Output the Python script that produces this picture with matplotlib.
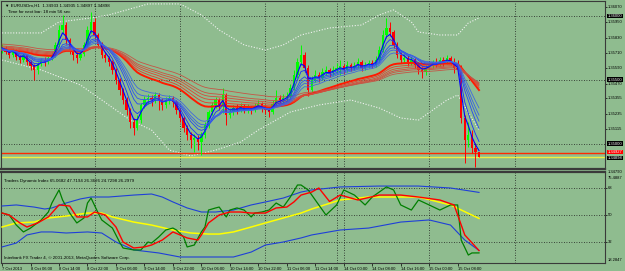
import matplotlib.pyplot as plt

# EURUSDm H1 bars (7 Oct 22:00 .. 15 Oct 14:00)
opens = [1.35733, 1.35749, 1.35718, 1.35694, 1.35733, 1.35679, 1.35655, 1.35694, 1.35640, 1.35608,
         1.35577, 1.35624, 1.35655, 1.35640, 1.35671, 1.35694, 1.35773, 1.35890, 1.35929, 1.35812,
         1.35733, 1.35694, 1.35671, 1.35702, 1.35773, 1.35890, 1.35953, 1.35851, 1.35773, 1.35694,
         1.35671, 1.35640, 1.35577, 1.35499, 1.35420, 1.35342, 1.35264, 1.35170, 1.35123, 1.35185,
         1.35303, 1.35342, 1.35358, 1.35342, 1.35381, 1.35342, 1.35303, 1.35342, 1.35358, 1.35326,
         1.35264, 1.35201, 1.35123, 1.35068, 1.35029, 1.35044, 1.35013, 1.35068, 1.35146, 1.35248,
         1.35303, 1.35342, 1.35303, 1.35381, 1.35225, 1.35248, 1.35279, 1.35264, 1.35295, 1.35264,
         1.35279, 1.35264, 1.35295, 1.35311, 1.35279, 1.35264, 1.35248, 1.35311, 1.35358, 1.35342,
         1.35358, 1.35373, 1.35436, 1.35538, 1.35640, 1.35694, 1.35593, 1.35420, 1.35499, 1.35538,
         1.35514, 1.35561, 1.35577, 1.35553, 1.35577, 1.35593, 1.35608, 1.35577, 1.35616, 1.35593,
         1.35608, 1.35640, 1.35593, 1.35616, 1.35632, 1.35616, 1.35655, 1.35733, 1.35851, 1.35906,
         1.35874, 1.35773, 1.35694, 1.35655, 1.35671, 1.35640, 1.35655, 1.35616, 1.35577, 1.35561,
         1.35593, 1.35616, 1.35640, 1.35624, 1.35655, 1.35640, 1.35671, 1.35640, 1.35593, 1.35577,
         1.35201, 1.35029, 1.35068, 1.34966, 1.34933]
highs = [1.35780, 1.35765, 1.35733, 1.35749, 1.35741, 1.35694, 1.35710, 1.35702, 1.35655, 1.35624,
         1.35640, 1.35671, 1.35679, 1.35687, 1.35718, 1.35796, 1.35929, 1.36008, 1.35953, 1.35827,
         1.35757, 1.35718, 1.35733, 1.35796, 1.35921, 1.36031, 1.35984, 1.35867, 1.35796, 1.35718,
         1.35687, 1.35655, 1.35593, 1.35514, 1.35436, 1.35365, 1.35279, 1.35201, 1.35225, 1.35319,
         1.35373, 1.35389, 1.35381, 1.35405, 1.35397, 1.35358, 1.35365, 1.35381, 1.35373, 1.35342,
         1.35279, 1.35217, 1.35146, 1.35091, 1.35076, 1.35068, 1.35091, 1.35170, 1.35264, 1.35326,
         1.35365, 1.35358, 1.35436, 1.35397, 1.35279, 1.35303, 1.35311, 1.35319, 1.35311, 1.35311,
         1.35295, 1.35319, 1.35342, 1.35326, 1.35303, 1.35287, 1.35342, 1.35420, 1.35381, 1.35389,
         1.35405, 1.35467, 1.35577, 1.35671, 1.35773, 1.35718, 1.35616, 1.35530, 1.35577, 1.35561,
         1.35593, 1.35608, 1.35593, 1.35608, 1.35632, 1.35655, 1.35624, 1.35647, 1.35632, 1.35640,
         1.35671, 1.35655, 1.35640, 1.35655, 1.35655, 1.35687, 1.35765, 1.35890, 1.35984, 1.35953,
         1.35890, 1.35796, 1.35718, 1.35702, 1.35694, 1.35679, 1.35671, 1.35640, 1.35608, 1.35616,
         1.35640, 1.35655, 1.35671, 1.35679, 1.35679, 1.35694, 1.35687, 1.35671, 1.35655, 1.35616,
         1.35225, 1.35170, 1.35107, 1.35005, 1.34935]
lows = [1.35710, 1.35702, 1.35671, 1.35679, 1.35655, 1.35632, 1.35640, 1.35616, 1.35577, 1.35499,
        1.35546, 1.35608, 1.35608, 1.35624, 1.35655, 1.35679, 1.35757, 1.35867, 1.35780, 1.35702,
        1.35655, 1.35632, 1.35655, 1.35687, 1.35757, 1.35867, 1.35827, 1.35749, 1.35671, 1.35640,
        1.35608, 1.35546, 1.35467, 1.35381, 1.35311, 1.35225, 1.35123, 1.35068, 1.35107, 1.35162,
        1.35279, 1.35311, 1.35295, 1.35319, 1.35264, 1.35264, 1.35279, 1.35311, 1.35287, 1.35232,
        1.35170, 1.35091, 1.35029, 1.34966, 1.34935, 1.34950, 1.34911, 1.35044, 1.35123, 1.35225,
        1.35279, 1.35264, 1.35240, 1.35146, 1.35201, 1.35225, 1.35232, 1.35248, 1.35240, 1.35240,
        1.35232, 1.35248, 1.35279, 1.35248, 1.35232, 1.35209, 1.35232, 1.35295, 1.35311, 1.35319,
        1.35334, 1.35358, 1.35420, 1.35514, 1.35616, 1.35561, 1.35373, 1.35405, 1.35483, 1.35483,
        1.35499, 1.35538, 1.35522, 1.35538, 1.35553, 1.35538, 1.35546, 1.35561, 1.35569, 1.35577,
        1.35593, 1.35569, 1.35577, 1.35593, 1.35593, 1.35600, 1.35640, 1.35718, 1.35827, 1.35843,
        1.35749, 1.35671, 1.35632, 1.35632, 1.35608, 1.35616, 1.35593, 1.35546, 1.35514, 1.35538,
        1.35577, 1.35593, 1.35600, 1.35608, 1.35608, 1.35624, 1.35616, 1.35553, 1.35561, 1.35162,
        1.34849, 1.34974, 1.34927, 1.34817, 1.34897]
closes = [1.35749, 1.35718, 1.35694, 1.35733, 1.35679, 1.35655, 1.35694, 1.35640, 1.35608, 1.35577,
          1.35624, 1.35655, 1.35640, 1.35671, 1.35694, 1.35773, 1.35890, 1.35929, 1.35812, 1.35733,
          1.35694, 1.35671, 1.35702, 1.35773, 1.35890, 1.35953, 1.35851, 1.35773, 1.35694, 1.35671,
          1.35640, 1.35577, 1.35499, 1.35420, 1.35342, 1.35264, 1.35170, 1.35123, 1.35185, 1.35303,
          1.35342, 1.35358, 1.35342, 1.35381, 1.35342, 1.35303, 1.35342, 1.35358, 1.35326, 1.35264,
          1.35201, 1.35123, 1.35068, 1.35029, 1.35044, 1.35013, 1.35068, 1.35146, 1.35248, 1.35303,
          1.35342, 1.35303, 1.35381, 1.35225, 1.35248, 1.35279, 1.35264, 1.35295, 1.35264, 1.35279,
          1.35264, 1.35295, 1.35311, 1.35279, 1.35264, 1.35248, 1.35311, 1.35358, 1.35342, 1.35358,
          1.35373, 1.35436, 1.35538, 1.35640, 1.35694, 1.35593, 1.35420, 1.35499, 1.35538, 1.35514,
          1.35561, 1.35577, 1.35553, 1.35577, 1.35593, 1.35608, 1.35577, 1.35616, 1.35593, 1.35608,
          1.35640, 1.35593, 1.35616, 1.35632, 1.35616, 1.35655, 1.35733, 1.35851, 1.35906, 1.35874,
          1.35773, 1.35694, 1.35655, 1.35671, 1.35640, 1.35655, 1.35616, 1.35577, 1.35561, 1.35593,
          1.35616, 1.35640, 1.35624, 1.35655, 1.35640, 1.35671, 1.35640, 1.35593, 1.35577, 1.35201,
          1.35029, 1.35068, 1.34966, 1.34933, 1.34898]

# GMMA: periods and the values the averages had at the first visible bar
short_periods = [3, 5, 8, 10, 12, 15]
short_start = [1.35749, 1.35749, 1.35741, 1.35741, 1.35733, 1.35733]
long_periods = [30, 35, 40, 45, 50, 60]
long_start = [1.35733, 1.35741, 1.35749, 1.35757, 1.35765, 1.35780]

# dotted white bands
band_up_bars = [0, 11, 16, 25, 30, 41, 50, 56, 61, 68, 74, 79, 84, 92, 101, 106, 110, 115, 117, 123, 128, 131, 134]
band_up = [1.35867, 1.35867, 1.35953, 1.35984, 1.36008, 1.36094, 1.36094, 1.36008, 1.35890, 1.35773, 1.35733, 1.35773,
           1.35851, 1.35906, 1.35929, 1.36008, 1.36047, 1.35953, 1.35874, 1.35851, 1.35851, 1.35945, 1.35984]
band_lo_bars = [0, 11, 22, 30, 36, 42, 47, 53, 60, 67, 72, 81, 89, 98, 106, 112, 117, 125, 128, 134]
band_lo = [1.35655, 1.35577, 1.35460, 1.35303, 1.35185, 1.35107, 1.34950, 1.34904, 1.34950, 1.35013,
           1.35107, 1.35248, 1.35303, 1.35342, 1.35279, 1.35201, 1.35185, 1.35342, 1.35381, 1.35107]

level_lines = [1.36000, 1.35500, 1.35000]
ask_price = 1.34927
bid_price = 1.34898

# Traders Dynamic Index
green_bars = [0, 2, 4, 6, 8, 11, 13, 14, 16, 17, 19, 21, 23, 24, 25, 27, 28, 31, 33, 34, 37, 39, 41, 42, 44,
              46, 48, 49, 51, 52, 54, 56, 57, 58, 60, 61, 63, 64, 66, 68, 70, 71, 73, 75, 77, 79, 81, 83, 84,
              86, 88, 91, 94, 96, 99, 102, 104, 108, 110, 112, 115, 117, 120, 123, 126, 128, 129, 131, 132, 134]
green_vals = [51.3, 50.0, 43.3, 38.7, 41.3, 46.7, 52.0, 58.0, 66.7, 60.0, 51.3, 44.7, 48.0, 58.0, 61.3, 51.3,
              46.7, 41.3, 32.0, 28.0, 26.7, 26.7, 32.0, 31.3, 35.3, 40.0, 41.3, 40.0, 35.3, 28.7, 30.0, 38.7,
              42.0, 53.3, 54.7, 55.3, 48.7, 53.3, 54.7, 53.3, 48.7, 51.3, 52.0, 53.3, 58.0, 55.3, 62.0, 70.0,
              70.0, 66.7, 60.0, 50.0, 56.7, 66.7, 63.3, 56.7, 62.0, 68.7, 66.7, 56.7, 53.3, 60.0, 56.7, 53.3,
              56.7, 56.7, 33.3, 23.3, 24.7, 24.73]
red_bars = [0, 2, 5, 7, 10, 13, 16, 19, 21, 24, 26, 29, 32, 34, 37, 40, 42, 45, 48, 52, 55, 56, 58, 61, 64,
            67, 70, 74, 77, 80, 82, 84, 87, 89, 92, 95, 100, 106, 112, 117, 123, 127, 130, 134]
red_vals = [51.3, 50.0, 44.7, 42.0, 44.7, 48.7, 56.7, 56.0, 48.7, 48.7, 52.0, 50.0, 42.0, 32.0, 28.0, 28.7,
            30.0, 33.3, 38.7, 34.7, 33.3, 36.7, 44.7, 50.0, 52.0, 52.0, 51.3, 51.3, 54.7, 55.3, 58.7, 63.3,
            65.3, 68.0, 59.0, 63.3, 60.0, 63.3, 63.3, 62.0, 60.0, 56.7, 36.7, 26.30]
yellow_bars = [0, 4, 9, 13, 18, 24, 28, 31, 37, 42, 48, 53, 58, 61, 65, 70, 74, 79, 84, 87, 95, 103, 117, 126, 134]
yellow_vals = [42.0, 44.7, 45.3, 48.0, 49.3, 51.3, 51.3, 48.7, 45.3, 43.3, 40.0, 38.0, 37.3, 37.3, 38.7, 42.0,
               44.7, 48.0, 51.3, 54.0, 60.0, 62.0, 62.0, 56.7, 47.72]
vb_up_bars = [0, 4, 9, 12, 14, 18, 22, 25, 30, 37, 42, 45, 48, 52, 56, 60, 65, 70, 74, 79, 84, 87, 95, 106, 117, 126, 134]
vb_up = [56.0, 56.7, 55.3, 54.0, 54.7, 58.0, 60.7, 62.0, 62.0, 63.3, 64.0, 62.0, 58.7, 54.7, 52.0, 52.0, 53.3,
         56.7, 58.7, 61.3, 65.3, 66.7, 68.7, 69.3, 69.3, 68.0, 65.07]
vb_lo_bars = [0, 4, 7, 11, 14, 18, 24, 28, 32, 37, 44, 50, 56, 61, 65, 70, 74, 79, 84, 87, 95, 103, 112, 120, 126, 130, 134]
vb_lo = [28.7, 31.3, 36.7, 38.7, 38.7, 38.0, 38.7, 38.0, 32.0, 26.7, 24.7, 22.0, 22.0, 22.0, 22.0, 25.3, 30.0,
         32.0, 34.7, 36.7, 40.0, 41.3, 45.3, 46.7, 43.3, 33.3, 26.36]
tdi_max = 75.4887
tdi_min = 18.2847

time_labels = ['7 Oct 2013', '8 Oct 06:00', '8 Oct 14:00', '8 Oct 22:00', '9 Oct 06:00', '9 Oct 14:00',
               '9 Oct 22:00', '10 Oct 06:00', '10 Oct 14:00', '10 Oct 22:00', '11 Oct 06:00', '11 Oct 14:00',
               '14 Oct 00:00', '14 Oct 08:00', '14 Oct 16:00', '15 Oct 00:00', '15 Oct 08:00']
time_ticks = list(range(0, 129, 8))
day_lines = [26, 50, 74, 94, 96, 120, 144]
price_ticks = [1.36070, 1.35950, 1.35830, 1.35710, 1.35590, 1.35470, 1.35355, 1.35235, 1.35115]
bottom_price = 1.34790
tdi_levels = [68, 50, 32]

plt.rcParams['font.family'] = ['Liberation Sans', 'DejaVu Sans']
FS = 3.0
BG = '#8fbc8f'
GRID = dict(color='#1e1e1e', linestyle=(0, (1, 2)), linewidth=0.6, zorder=1)


def ema(values, period, start):
    k = 2.0 / (period + 1)
    out = [start]
    for v in values[1:]:
        out.append(out[-1] + k * (v - out[-1]))
    return out


def side_label(a, value, text, dy=0, bg=None):
    kw = dict(xy=(1, value), xycoords=('axes fraction', 'data'), xytext=(1.8, dy),
              textcoords='offset points', va='center', ha='left', fontsize=FS, annotation_clip=False)
    if bg:
        kw.update(color='white', bbox=dict(facecolor=bg, edgecolor='none', pad=0.3))
    a.annotate(text, **kw)


fig = plt.figure(figsize=(6.25, 2.71), dpi=100)
fig.patch.set_facecolor(BG)
ax = fig.add_axes([1 / 625, 1 - 169 / 271, 604 / 625, 168 / 271])
ax2 = fig.add_axes([1 / 625, 1 - 263 / 271, 604 / 625, 91 / 271])

xmin, xmax = -0.3, 169.4
bars = list(range(len(closes)))

# ---- main chart
ax.set_facecolor(BG)
ax.set_xlim(xmin, xmax)
ax.set_ylim(1.34802, 1.36117)
for b in day_lines:
    ax.axvline(b, **GRID)
for lv in level_lines:
    ax.axhline(lv, **GRID)

ax.plot(band_up_bars, band_up, color='#f2f2f2', linestyle=(0, (1, 1.5)), linewidth=0.8, zorder=2)
ax.plot(band_lo_bars, band_lo, color='#f2f2f2', linestyle=(0, (1, 1.5)), linewidth=0.8, zorder=2)

ax.axhline(ask_price, color='#ff2a00', linewidth=1.0, zorder=2)
ax.axhline(bid_price, color='#f0f040', linewidth=1.0, zorder=2)

# candles
for i in bars:
    up = closes[i] >= opens[i]
    col = '#00ff00' if up else '#ff0000'
    ax.vlines(i, lows[i], highs[i], color=col, linewidth=0.7, zorder=3)
    lo = min(opens[i], closes[i])
    h = max(abs(closes[i] - opens[i]), 0.00003)
    ax.bar(i, h, bottom=lo, width=0.65, color=col, linewidth=0, zorder=3)

long_cols = ['#ff1a00', '#e83a2a', '#dd4535', '#d44c3c', '#cc5040', '#c45545']
for n, (p, s) in enumerate(zip(long_periods, long_start)):
    ax.plot(bars, ema(closes, p, s), color=long_cols[n], linewidth=1.4 if n == 0 else 0.6, zorder=4)
short_cols = ['#0000ff', '#1530ff', '#2545f5', '#3055ee', '#3a60e6', '#4268dd']
for n, (p, s) in enumerate(zip(short_periods, short_start)):
    ax.plot(bars, ema(closes, p, s), color=short_cols[n], linewidth=0.8 if n == 0 else 0.6, zorder=4)

ax.set_yticks(price_ticks)
ax.set_yticklabels([])
ax.tick_params(axis='y', left=False, right=True, length=1.5, width=0.5)
ax.set_xticks([])
for v in price_ticks:
    side_label(ax, v, '%.5f' % v)
for lv in level_lines:
    side_label(ax, lv, '%.5f' % lv, bg='black')
side_label(ax, ask_price, '%.5f' % ask_price, dy=0.8, bg='#ff0000')
side_label(ax, bid_price, '%.5f' % bid_price, dy=-0.9, bg='black')
side_label(ax, ax.get_ylim()[0], '%.5f' % bottom_price, dy=-2.2)

ax.text(0.006, 0.975, '\u25bc EURUSDm,H1  1.34933 1.34935 1.34897 1.34898', transform=ax.transAxes,
        fontsize=FS + 0.2, va='center', ha='left')
ax.text(0.012, 0.937, 'Time for next bar: 18 min 56 sec', transform=ax.transAxes,
        fontsize=FS + 0.2, va='center', ha='left')

# ---- Traders Dynamic Index
ax2.set_facecolor(BG)
ax2.set_xlim(xmin, xmax)
ax2.set_ylim(18.0, 78.67)
for b in day_lines:
    ax2.axvline(b, **GRID)
for lv in tdi_levels:
    ax2.axhline(lv, **GRID)

ax2.plot(vb_up_bars, vb_up, color='#1f3fd8', linewidth=0.8, zorder=3)
ax2.plot(vb_lo_bars, vb_lo, color='#1f3fd8', linewidth=0.8, zorder=3)
ax2.plot(yellow_bars, yellow_vals, color='#ffff00', linewidth=1.1, zorder=3)
ax2.plot(green_bars, green_vals, color='#008000', linewidth=0.9, zorder=4)
ax2.plot(red_bars, red_vals, color='#ff0000', linewidth=1.0, zorder=4)

ax2.set_yticks(tdi_levels)
ax2.set_yticklabels([])
ax2.tick_params(axis='y', left=False, right=True, length=1.5, width=0.5)
for lv in tdi_levels:
    side_label(ax2, lv, '%d' % lv)
side_label(ax2, tdi_max, '%.4f' % tdi_max, dy=-1.2)
side_label(ax2, tdi_min, '%.4f' % tdi_min, dy=2.0)

ax2.set_xticks(time_ticks)
ax2.set_xticklabels(time_labels, fontsize=FS, ha='left')
ax2.tick_params(axis='x', length=2, width=0.5, pad=0.8)

ax2.text(0.005, 0.9, 'Traders Dynamic Index 65.0682 47.7194 26.3626 24.7298 26.2979', transform=ax2.transAxes,
         fontsize=FS + 0.2, va='center', ha='left')
ax2.text(0.005, 0.06, 'Interbank FX Trader 4, \u00a9 2001-2013, MetaQuotes Software Corp.', transform=ax2.transAxes,
         fontsize=FS + 0.2, va='center', ha='left')

for a in (ax, ax2):
    for sp in a.spines.values():
        sp.set_color('#3a3a3a')
        sp.set_linewidth(0.8)
ax.spines['bottom'].set_linewidth(1.6)
ax2.spines['top'].set_linewidth(1.6)

fig.savefig('out.png', dpi=100, facecolor=BG)
